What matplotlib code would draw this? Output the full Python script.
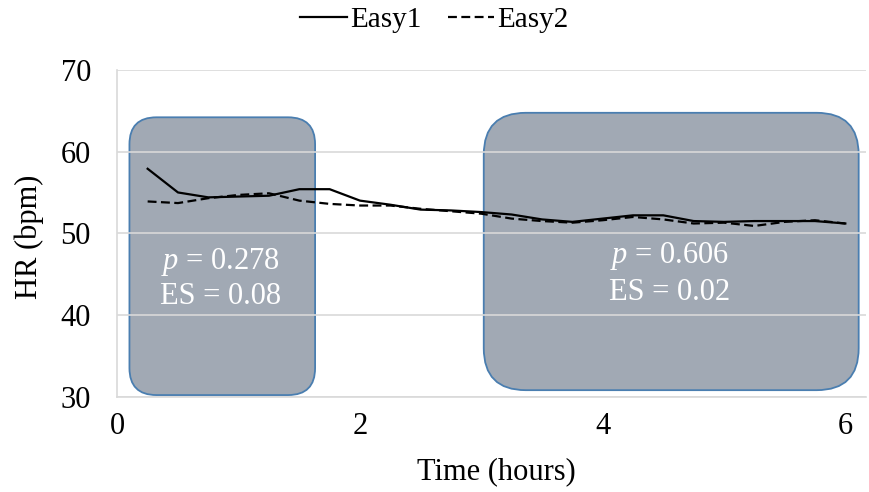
import matplotlib
matplotlib.use("Agg")
import matplotlib.pyplot as plt
from matplotlib.patches import FancyBboxPatch

plt.rcParams['font.family'] = ['Liberation Serif', 'DejaVu Serif']
plt.rcParams['mathtext.fontset'] = 'custom'
plt.rcParams['mathtext.rm'] = 'Liberation Serif'
plt.rcParams['mathtext.it'] = 'Liberation Serif:italic'

# data
hours = [0.25, 0.5, 0.75, 1.0, 1.25, 1.5, 1.75, 2.0, 2.25, 2.5, 2.75, 3.0,
         3.25, 3.5, 3.75, 4.0, 4.25, 4.5, 4.75, 5.0, 5.25, 5.5, 5.75, 6.0]
easy1 = [57.9, 55.0, 54.4, 54.5, 54.6, 55.4, 55.4, 54.0, 53.5, 52.9, 52.8, 52.6,
         52.3, 51.7, 51.4, 51.8, 52.2, 52.2, 51.5, 51.4, 51.5, 51.5, 51.5, 51.2]
easy2 = [53.9, 53.7, 54.3, 54.7, 54.9, 54.0, 53.6, 53.4, 53.4, 53.0, 52.7, 52.4,
         51.8, 51.5, 51.3, 51.6, 52.0, 51.7, 51.2, 51.3, 50.9, 51.4, 51.6, 51.2]

# shaded windows: (x0, x1, y0, y1, corner px), stats text
windows = [(0.10, 1.63, 30.2, 64.2, 27), (3.02, 6.11, 30.8, 64.75, 42)]
stats = [("0.278", "0.08"), ("0.606", "0.02")]
text_pos = [(0.85, 46.5, 42.3), (4.55, 47.2, 42.8)]

fig = plt.figure(figsize=(8.69, 4.92), dpi=100)
ax = fig.add_axes([0.135, 0.1937, 0.8615, 0.6642])

xmin, xmax, ymin, ymax = 0, 6.17, 30, 70
ax.set_xlim(xmin, xmax)
ax.set_ylim(ymin, ymax)

# px per data unit, to keep rounded corners round
xs = 869 * 0.8615 / (xmax - xmin)
ys = 492 * 0.6642 / (ymax - ymin)

for (x0, x1, y0, y1, rpx) in windows:
    r = rpx / xs
    box = FancyBboxPatch((x0, y0), x1 - x0, y1 - y0,
                         boxstyle=f"round,pad=0,rounding_size={r}",
                         mutation_aspect=xs / ys,
                         facecolor='#44546A', alpha=0.5,
                         edgecolor='none', zorder=1)
    ax.add_patch(box)
    edge = FancyBboxPatch((x0, y0), x1 - x0, y1 - y0,
                          boxstyle=f"round,pad=0,rounding_size={r}",
                          mutation_aspect=xs / ys,
                          facecolor='none', edgecolor='#4A7EB0',
                          linewidth=1.3, zorder=1.1)
    ax.add_patch(edge)

for (pv, es), (tx, ty1, ty2) in zip(stats, text_pos):
    ax.text(tx, ty1, r'$\it{p}$ = ' + pv, color='white', fontsize=22,
            ha='center', va='center', zorder=4)
    ax.text(tx, ty2, 'ES = ' + es, color='white', fontsize=22,
            ha='center', va='center', zorder=4)

ax.plot(hours, easy1, color='black', lw=1.6, label='Easy1', zorder=3)
ax.plot(hours, easy2, color='black', lw=1.6, ls=(0, (4, 2)), label='Easy2', zorder=3)

ax.set_axisbelow(False)
ax.grid(axis='y', color='#d9d9d9', lw=1.2, zorder=2)
ax.set_xticks([0, 2, 4, 6])
ax.set_yticks([30, 40, 50, 60, 70])
ax.tick_params(length=0, labelsize=22)
ax.tick_params(axis='x', pad=11)
ax.tick_params(axis='y', pad=19)
for s in ['top', 'right']:
    ax.spines[s].set_visible(False)
for s in ['left', 'bottom']:
    ax.spines[s].set_color('#d9d9d9')
    ax.spines[s].set_linewidth(1.2)

ax.set_xlabel('Time (hours)', fontsize=22)
ax.xaxis.set_label_coords(0.506, -0.23)
ax.xaxis.label.set_va('center')
ax.set_ylabel('HR (bpm)', fontsize=22)
ax.yaxis.set_label_coords(-0.117, 0.49)
ax.yaxis.label.set_va('center')

fig.legend(loc='center', bbox_to_anchor=(0.5, 0.959), ncol=2, frameon=False,
           fontsize=21, handlelength=1.6, handletextpad=0.1, columnspacing=0.9)

fig.savefig('out.png', dpi=100)
